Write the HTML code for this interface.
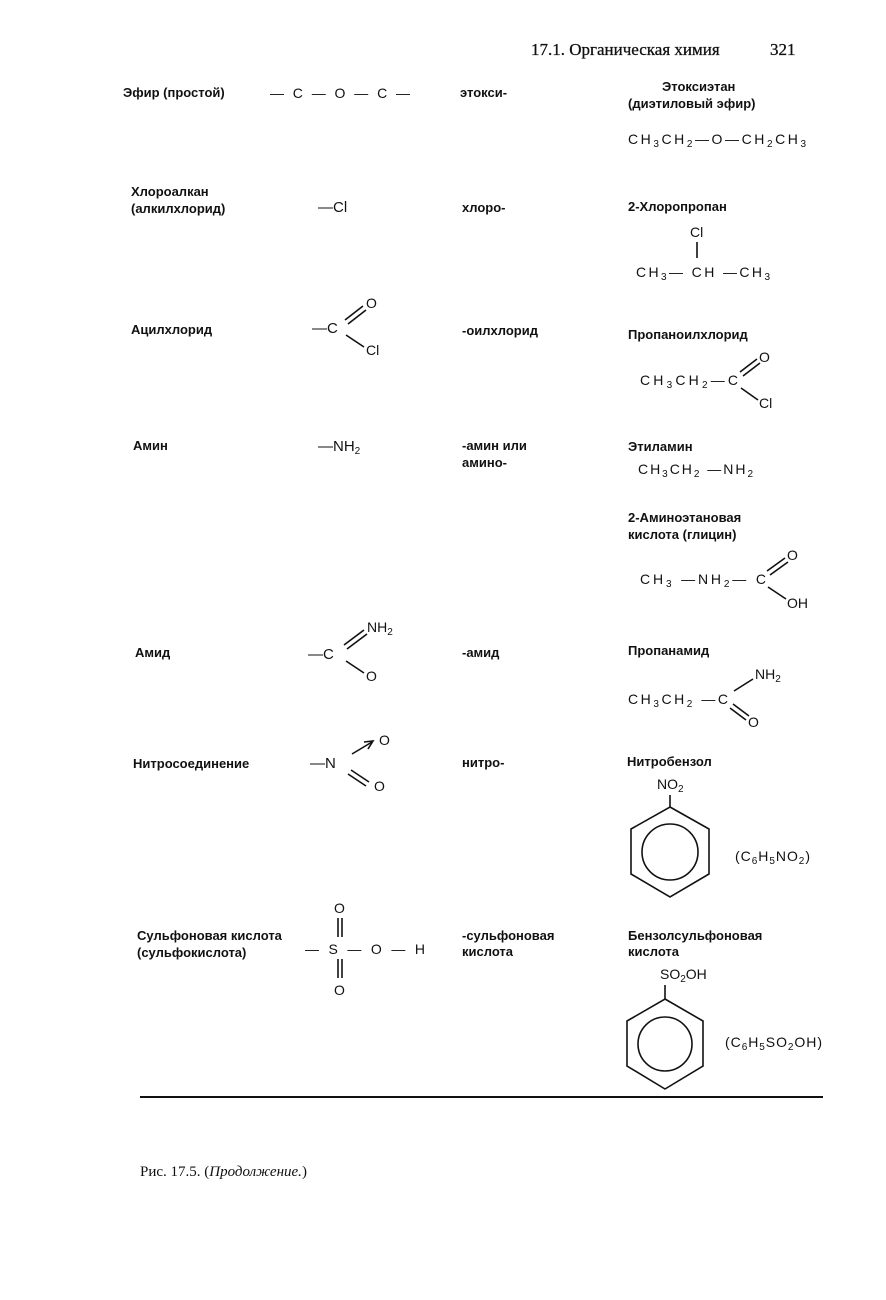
<!DOCTYPE html>
<html><head><meta charset="utf-8"><style>
html,body{margin:0;padding:0;background:#fff;}
svg{display:block}
.s{font-family:"Liberation Sans","DejaVu Sans",sans-serif;font-size:13px;font-weight:bold;fill:#111}
.f{font-family:"Liberation Sans","DejaVu Sans",sans-serif;font-size:14px;fill:#111}
.r{font-family:"Liberation Serif",serif;font-size:15px;fill:#111}
line,polygon,circle,path{stroke:#111;stroke-width:1.6;fill:none}
</style></head><body>
<svg width="886" height="1300" viewBox="0 0 886 1300" xmlns="http://www.w3.org/2000/svg">
<text class="r" x="531" y="55" style="font-size:17px;stroke:#111;stroke-width:0.3">17.1. Органическая химия</text>
<text class="r" x="770" y="55" style="font-size:17px;stroke:#111;stroke-width:0.3">321</text>

<!-- Row 1 -->
<text class="s" x="123" y="97">Эфир (простой)</text>
<text class="f" x="270" y="98" textLength="140" lengthAdjust="spacing">—C—O—C—</text>
<text class="s" x="460" y="97">этокси-</text>
<text class="s" x="662" y="91">Этоксиэтан</text>
<text class="s" x="628" y="108">(диэтиловый эфир)</text>
<text class="f" x="628" y="144" textLength="178" lengthAdjust="spacing">CH<tspan font-size="10" dy="3">3</tspan><tspan dy="-3">CH</tspan><tspan font-size="10" dy="3">2</tspan><tspan dy="-3">—O—CH</tspan><tspan font-size="10" dy="3">2</tspan><tspan dy="-3">CH</tspan><tspan font-size="10" dy="3">3</tspan></text>

<!-- Row 2 -->
<text class="s" x="131" y="196">Хлороалкан</text>
<text class="s" x="131" y="213">(алкилхлорид)</text>
<text class="f" x="318" y="212" style="font-size:15px">—Cl</text>
<text class="s" x="462" y="212">хлоро-</text>
<text class="s" x="628" y="211">2-Хлоропропан</text>
<text class="f" x="690" y="237">Cl</text>
<line x1="697" y1="242" x2="697" y2="258"/>
<text class="f" x="636" y="277" textLength="134" lengthAdjust="spacing">CH<tspan font-size="10" dy="3">3</tspan><tspan dy="-3">— CH —CH</tspan><tspan font-size="10" dy="3">3</tspan></text>

<!-- Row 3 -->
<text class="s" x="131" y="334">Ацилхлорид</text>
<text class="f" x="312" y="333" style="font-size:15px">—C</text>
<line x1="345" y1="320" x2="363" y2="306"/><line x1="348" y1="324" x2="366" y2="310"/>
<text class="f" x="366" y="308">O</text>
<line x1="346" y1="335" x2="364" y2="347"/>
<text class="f" x="366" y="355">Cl</text>
<text class="s" x="462" y="335">-оилхлорид</text>
<text class="s" x="628" y="339">Пропаноилхлорид</text>
<text class="f" x="640" y="385" textLength="98" lengthAdjust="spacing">CH<tspan font-size="10" dy="3">3</tspan><tspan dy="-3">CH</tspan><tspan font-size="10" dy="3">2</tspan><tspan dy="-3">—C</tspan></text>
<line x1="740" y1="372" x2="757" y2="359"/><line x1="743" y1="376" x2="760" y2="363"/>
<text class="f" x="759" y="362">O</text>
<line x1="741" y1="388" x2="758" y2="400"/>
<text class="f" x="759" y="408">Cl</text>

<!-- Row 4 -->
<text class="s" x="133" y="450">Амин</text>
<text class="f" x="318" y="451" style="font-size:15px">—NH<tspan font-size="10" dy="3">2</tspan></text>
<text class="s" x="462" y="450">-амин или</text>
<text class="s" x="462" y="467">амино-</text>
<text class="s" x="628" y="451">Этиламин</text>
<text class="f" x="638" y="474" textLength="115" lengthAdjust="spacing">CH<tspan font-size="10" dy="3">3</tspan><tspan dy="-3">CH</tspan><tspan font-size="10" dy="3">2</tspan><tspan dy="-3"> —NH</tspan><tspan font-size="10" dy="3">2</tspan></text>
<text class="s" x="628" y="522">2-Аминоэтановая</text>
<text class="s" x="628" y="539">кислота (глицин)</text>
<text class="f" x="640" y="584" textLength="126" lengthAdjust="spacing">CH<tspan font-size="10" dy="3">3</tspan><tspan dy="-3"> —NH</tspan><tspan font-size="10" dy="3">2</tspan><tspan dy="-3">— C</tspan></text>
<line x1="767" y1="571" x2="785" y2="558"/><line x1="770" y1="575" x2="788" y2="562"/>
<text class="f" x="787" y="560">O</text>
<line x1="768" y1="587" x2="786" y2="599"/>
<text class="f" x="787" y="608">OH</text>

<!-- Row 5 -->
<text class="s" x="135" y="657">Амид</text>
<text class="f" x="367" y="632">NH<tspan font-size="10" dy="3">2</tspan></text>
<line x1="344" y1="645" x2="364" y2="630"/><line x1="347" y1="649" x2="367" y2="634"/>
<text class="f" x="308" y="659" style="font-size:15px">—C</text>
<line x1="346" y1="661" x2="364" y2="673"/>
<text class="f" x="366" y="681">O</text>
<text class="s" x="462" y="657">-амид</text>
<text class="s" x="628" y="655">Пропанамид</text>
<text class="f" x="755" y="679">NH<tspan font-size="10" dy="3">2</tspan></text>
<line x1="734" y1="691" x2="753" y2="679"/>
<text class="f" x="628" y="704" textLength="100" lengthAdjust="spacing">CH<tspan font-size="10" dy="3">3</tspan><tspan dy="-3">CH</tspan><tspan font-size="10" dy="3">2</tspan><tspan dy="-3"> —C</tspan></text>
<line x1="733" y1="704" x2="749" y2="716"/><line x1="730" y1="708" x2="746" y2="720"/>
<text class="f" x="748" y="727">O</text>

<!-- Row 6 -->
<text class="s" x="133" y="768">Нитросоединение</text>
<text class="f" x="310" y="768" style="font-size:15px">—N</text>
<line x1="352" y1="754" x2="372" y2="742"/>
<path d="M364 742 L373 741 L368 749" />
<text class="f" x="379" y="745">O</text>
<line x1="351" y1="770" x2="369" y2="782"/><line x1="348" y1="774" x2="366" y2="786"/>
<text class="f" x="374" y="791">O</text>
<text class="s" x="462" y="767">нитро-</text>
<text class="s" x="627" y="766">Нитробензол</text>
<text class="f" x="657" y="789">NO<tspan font-size="10" dy="3">2</tspan></text>
<line x1="670" y1="795" x2="670" y2="807"/>
<polygon points="670,807 709,829 709,874 670,897 631,874 631,829"/>
<circle cx="670" cy="852" r="28"/>
<text class="f" x="735" y="861" textLength="75" lengthAdjust="spacing">(C<tspan font-size="10" dy="3">6</tspan><tspan dy="-3">H</tspan><tspan font-size="10" dy="3">5</tspan><tspan dy="-3">NO</tspan><tspan font-size="10" dy="3">2</tspan><tspan dy="-3">)</tspan></text>

<!-- Row 7 -->
<text class="s" x="137" y="940">Сульфоновая кислота</text>
<text class="s" x="137" y="957">(сульфокислота)</text>
<text class="f" x="334" y="913">O</text>
<line x1="338" y1="918" x2="338" y2="937"/><line x1="342" y1="918" x2="342" y2="937"/>
<text class="f" x="305" y="954" textLength="120" lengthAdjust="spacing">—S—O—H</text>
<line x1="338" y1="959" x2="338" y2="978"/><line x1="342" y1="959" x2="342" y2="978"/>
<text class="f" x="334" y="995">O</text>
<text class="s" x="462" y="940">-сульфоновая</text>
<text class="s" x="462" y="956">кислота</text>
<text class="s" x="628" y="940">Бензолсульфоновая</text>
<text class="s" x="628" y="956">кислота</text>
<text class="f" x="660" y="979">SO<tspan font-size="10" dy="3">2</tspan><tspan dy="-3">OH</tspan></text>
<line x1="665" y1="985" x2="665" y2="999"/>
<polygon points="665,999 703,1021 703,1066 665,1089 627,1066 627,1021"/>
<circle cx="665" cy="1044" r="27"/>
<text class="f" x="725" y="1047" textLength="97" lengthAdjust="spacing">(C<tspan font-size="10" dy="3">6</tspan><tspan dy="-3">H</tspan><tspan font-size="10" dy="3">5</tspan><tspan dy="-3">SO</tspan><tspan font-size="10" dy="3">2</tspan><tspan dy="-3">OH)</tspan></text>

<line x1="140" y1="1097" x2="823" y2="1097" style="stroke-width:2"/>
<text class="r" x="140" y="1176">Рис. 17.5. (<tspan font-style="italic">Продолжение.</tspan>)</text>
</svg>
</body></html>
